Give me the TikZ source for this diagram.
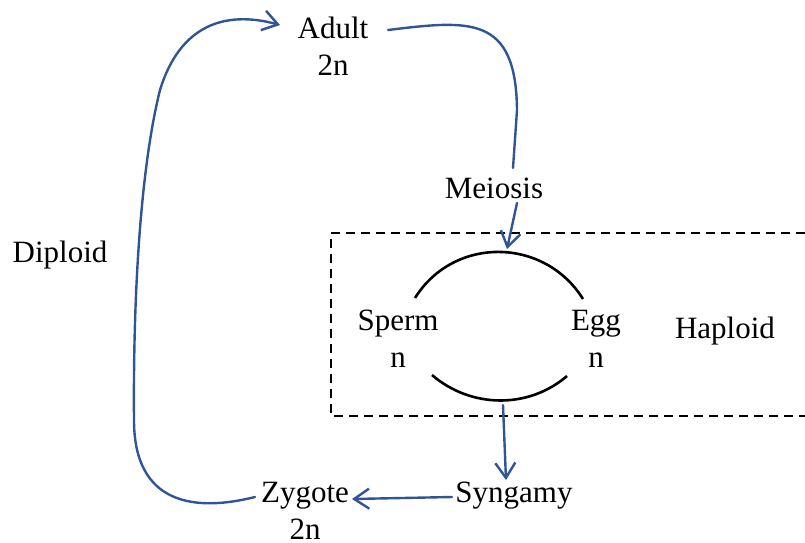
\documentclass[tikz,border=0pt]{standalone}
\usepackage{fontspec}
\setmainfont{Liberation Serif}
\usetikzlibrary{arrows.meta}
\definecolor{cyc}{RGB}{47,85,151}
\begin{document}
\begin{tikzpicture}[x=1pt,y=-1pt,
  lbl/.style={font=\fontsize{31}{37}\selectfont, inner sep=0pt, anchor=base, align=center},
  flow/.style={draw=cyc, line width=2.4pt, line cap=round, line join=round},
  tip/.style={-{Straight Barb[length=15pt,width=20pt,line width=2.4pt]}},
  gamete/.style={draw=black, line width=2.6pt},
  box/.style={draw=black, line width=2.2pt, dash pattern=on 9pt off 6pt}]
\useasboundingbox (0,0) rectangle (805,542);
% labels (base = baseline of the last line)
\node[lbl] (adult)   at (333,75)  {Adult\\2n};
\node[lbl] (diploid) at (60,262)  {Diploid};
\node[lbl] (meiosis) at (494,198) {Meiosis};
\node[lbl] (sperm)   at (398,367) {Sperm\\n};
\node[lbl] (egg)     at (596,367) {Egg\\n};
\node[lbl] (haploid) at (725,338) {Haploid};
\node[lbl] (syngamy) at (514,502) {Syngamy};
\node[lbl] (zygote)  at (305,539) {Zygote\\2n};
% connector end points
\coordinate (adultout) at (388,30);
\coordinate (meioin)   at (513,168);
\coordinate (meioout)  at (517,203);
\coordinate (pairtop)  at (507,249);
\coordinate (pairbot)  at (503,405);
\coordinate (syngin)   at (506,480);
\coordinate (syngout)  at (452,497);
\coordinate (zygin)    at (352,499);
\coordinate (zygout)   at (255,497);
\coordinate (adultin)  at (280,25);
% haploid box
\draw[box] (805,233) -- (331,233) -- (331,416) -- (805,416);
% gamete arcs
\draw[gamete] (415,298) .. controls (453.8,235.9) and (544.2,236.9) .. (583,299);
\draw[gamete] (432,375) .. controls (470.8,408.3) and (528.2,409.3) .. (567,376);
% cycle connectors
\draw[flow] (adultout) .. controls (470,20) and (516,15) .. (517,110) -- (meioin);
\draw[flow,tip] (meioout) -- (pairtop);
\draw[flow,tip] (pairbot) -- (syngin);
\draw[flow,tip] (syngout) -- (zygin);
\draw[flow,tip] (zygout) .. controls (195,512) and (134,505) .. (134,420)
   .. controls (133,300) and (140,170) .. (160,90)
   .. controls (180,25) and (225,10) .. (adultin);
\end{tikzpicture}
\end{document}
